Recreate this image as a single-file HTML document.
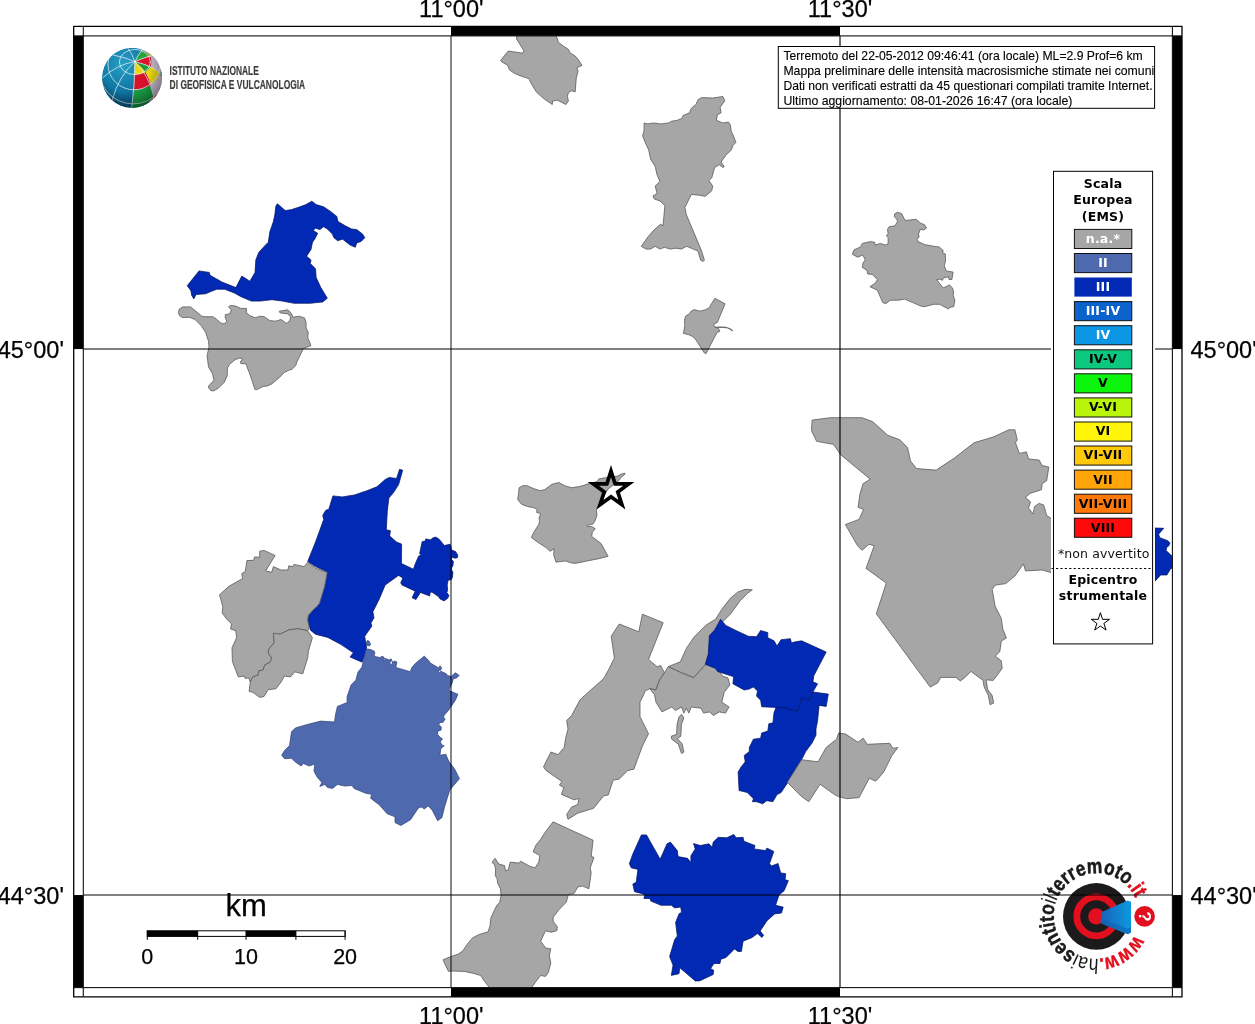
<!DOCTYPE html>
<html lang="it"><head><meta charset="utf-8"><title>Mappa intensità macrosismiche</title>
<style>
html,body{margin:0;padding:0;background:#fff;}
body{width:1255px;height:1024px;overflow:hidden;position:relative;font-family:"Liberation Sans",sans-serif;}
svg{position:absolute;left:0;top:0;display:block;}
.h{font-family:"Liberation Sans",sans-serif;fill:#000;}
.hb{stroke:#000;stroke-width:0.25px;}
.hi{stroke:#000;stroke-width:0.12px;}
.d{font-family:"DejaVu Sans","Liberation Sans",sans-serif;}
.db{font-family:"DejaVu Sans","Liberation Sans",sans-serif;font-weight:bold;font-size:12.5px;text-anchor:middle;letter-spacing:0.2px;}
</style></head><body>
<svg width="1255" height="1024" viewBox="0 0 1255 1024">
<defs>
<clipPath id="mapclip"><rect x="83.3" y="35.9" width="1089.1000000000001" height="951.7"/></clipPath>
<clipPath id="globeclip"><circle cx="132" cy="77.9" r="30.1"/></clipPath>
<radialGradient id="gblue" cx="35%" cy="28%" r="75%"><stop offset="0" stop-color="#27a0c6"/><stop offset="0.5" stop-color="#127ca8"/><stop offset="1" stop-color="#07527e"/></radialGradient>
<radialGradient id="gshade" cx="40%" cy="35%" r="65%"><stop offset="0.6" stop-color="#000" stop-opacity="0"/><stop offset="1" stop-color="#000" stop-opacity="0.36"/></radialGradient>
<linearGradient id="cone" x1="0" y1="0" x2="1" y2="0"><stop offset="0" stop-color="#1a62b8"/><stop offset="1" stop-color="#0a9ae0"/></linearGradient>
</defs>
<rect width="1255" height="1024" fill="#fff"/>
<g opacity="0.999">
<g clip-path="url(#mapclip)" stroke-linejoin="round">
<polygon points="277.1,203.8 279.3,205.3 285.2,210.5 291.1,209.7 300.0,206.8 305.9,204.6 311.8,201.2 316.2,204.6 323.6,206.8 330.2,211.2 336.8,216.4 338.0,221.5 345.7,226.0 351.6,228.9 356.7,229.6 362.6,234.1 364.8,237.7 361.2,241.4 356.7,242.9 355.3,247.3 350.1,245.1 342.7,239.2 337.6,240.7 333.9,237.7 332.4,234.1 327.3,228.9 323.6,226.7 319.9,229.6 315.5,228.2 313.2,230.4 317.7,233.3 314.7,239.2 312.5,242.2 311.0,249.5 306.6,256.2 311.0,259.9 310.3,263.5 315.5,268.7 316.2,277.5 320.6,287.1 327.3,298.2 322.8,301.9 310.3,303.3 294.1,303.3 282.3,301.1 272.0,299.7 260.2,301.1 251.3,301.1 241.0,296.7 234.4,293.0 224.8,289.3 216.7,289.3 210.8,291.6 205.6,293.8 196.1,294.5 193.8,298.9 191.6,295.2 190.9,290.8 187.2,285.7 199.0,270.9 209.3,272.4 210.1,275.3 221.9,282.0 235.9,287.6 241.8,276.1 249.9,281.2 255.0,272.4 255.8,259.9 258.7,252.5 264.6,245.9 268.3,242.2 269.8,231.9 273.4,221.5 274.9,214.2 275.7,206.8" fill="#0029b4" stroke="#00125e" stroke-width="0.7"/>
<polygon points="178.3,312.3 179.5,308.9 182.8,306.9 190.6,306.9 195.1,310.6 201.8,316.2 205.1,316.7 212.9,316.7 216.3,319.0 220.7,322.9 224.1,324.0 226.9,321.2 225.2,317.8 225.4,314.5 229.7,313.9 231.3,310.0 228.5,306.7 230.8,305.4 235.8,306.1 240.8,308.4 246.4,308.4 246.4,312.3 249.7,315.6 255.3,317.8 259.8,316.2 264.2,316.7 269.8,320.6 275.4,321.2 281.0,319.5 286.6,323.4 289.9,320.6 290.5,316.7 287.7,313.9 279.9,312.8 279.3,311.2 287.7,309.8 291.0,312.8 293.2,317.3 298.8,316.2 304.4,317.8 306.1,322.3 306.1,327.9 308.3,332.4 307.7,337.9 310.0,342.9 310.9,345.7 303.3,348.5 299.9,355.8 296.6,362.5 296.0,365.3 292.1,369.2 288.8,370.3 284.3,372.5 279.9,377.0 272.1,383.7 267.6,385.9 263.1,386.5 256.4,389.8 254.8,389.2 252.0,380.3 249.2,372.5 247.0,366.9 246.4,364.1 240.8,363.4 240.3,361.9 242.5,359.1 239.7,358.0 235.2,359.7 229.7,364.1 227.4,368.0 227.2,375.9 224.1,382.5 218.5,388.1 213.5,390.9 210.7,390.6 208.2,387.0 209.6,384.8 214.0,380.3 212.4,373.6 208.5,366.9 207.1,355.8 209.0,346.9 208.5,341.3 205.7,332.4 201.2,325.7 195.1,319.5 189.5,317.3 182.3,317.6 179.5,315.6" fill="#a6a6a6" stroke="#5a5a5a" stroke-width="0.8"/>
<polygon points="516.6,34.6 516.6,39.0 523.9,50.8 522.5,53.2 508.3,51.0 500.5,60.5 502.0,62.0 507.8,65.4 509.3,69.8 514.2,73.2 521.0,76.1 528.8,78.6 531.7,84.4 536.6,92.3 544.4,99.1 552.3,104.5 552.7,101.0 557.1,100.1 565.9,104.5 568.4,101.0 567.4,96.2 568.4,92.7 571.3,90.8 575.2,91.8 576.2,78.6 578.1,70.8 576.7,67.8 582.0,65.4 578.6,60.0 575.2,56.1 569.8,52.7 568.4,49.3 563.0,45.9 558.1,42.0 557.6,39.0 555.2,34.6" fill="#a6a6a6" stroke="#5a5a5a" stroke-width="0.8"/>
<polygon points="644.1,123.0 647.8,123.9 653.4,123.0 660.8,123.9 668.2,123.0 671.9,121.2 677.5,120.2 682.1,118.4 683.0,115.6 689.5,112.8 691.4,108.2 696.0,104.5 697.9,99.8 701.6,97.6 712.7,98.0 722.9,96.5 724.8,100.8 720.1,107.3 721.1,112.8 717.4,114.7 716.4,120.2 722.9,123.0 728.5,122.1 730.3,124.9 731.3,131.4 733.5,136.0 735.9,142.5 733.1,145.3 731.3,149.9 725.7,155.5 721.1,162.0 724.2,166.6 722.9,167.5 719.2,164.7 714.6,167.5 711.8,177.7 709.0,180.5 712.7,186.1 711.8,190.7 705.3,196.3 699.7,195.3 691.4,194.4 684.9,207.4 686.4,214.8 694.2,233.3 701.6,251.0 704.4,260.2 703.1,261.5 700.7,260.2 697.9,251.0 693.2,249.1 686.8,246.3 681.2,249.1 675.6,248.2 670.1,249.1 664.5,247.3 659.9,249.1 655.2,246.3 650.6,249.1 646.0,249.1 641.3,246.3 647.8,237.1 654.3,229.6 660.8,224.1 663.0,225.9 664.9,205.5 659.9,200.9 654.3,199.0 653.0,195.9 657.1,193.5 655.2,186.1 659.9,181.4 657.1,174.9 655.2,166.6 650.6,159.2 648.7,149.9 646.0,144.3 642.6,136.0 644.1,130.4" fill="#a6a6a6" stroke="#5a5a5a" stroke-width="0.8"/>
<polygon points="894.5,214.1 897.4,212.3 901.5,213.5 905.1,220.5 910.3,219.9 916.2,219.3 920.9,223.4 924.4,224.6 926.5,228.1 923.8,229.9 920.3,229.3 918.5,234.0 919.1,236.9 917.1,239.3 918.0,241.6 924.4,244.5 933.8,246.3 939.1,246.9 943.2,250.4 942.6,252.8 945.3,253.9 945.5,261.0 944.3,265.6 946.1,270.9 953.1,272.1 951.9,279.5 949.0,279.5 948.4,276.8 943.2,278.0 942.6,280.3 939.1,279.1 936.7,279.7 943.2,287.9 949.6,285.0 952.5,287.9 953.7,292.6 953.1,295.5 954.9,300.2 953.7,306.7 950.2,307.3 948.4,309.0 939.6,304.3 933.8,304.3 924.4,306.7 920.9,306.1 912.7,302.6 904.5,299.1 898.6,300.2 890.4,300.2 885.7,303.7 882.8,302.6 880.4,297.3 877.5,290.3 869.9,286.7 875.2,283.2 877.5,279.7 872.2,274.4 867.5,273.9 867.0,270.3 862.3,267.4 862.9,263.3 865.2,259.8 862.9,255.1 857.6,257.2 852.3,254.2 854.1,249.8 860.5,246.9 862.3,243.4 870.5,241.6 874.6,242.2 875.2,245.1 880.4,243.4 885.1,245.1 888.1,244.0 888.1,237.5 886.3,235.8 888.1,233.4 887.5,229.3 889.2,226.7 895.1,225.8 897.4,221.7 896.9,219.3 894.5,217.0" fill="#a6a6a6" stroke="#5a5a5a" stroke-width="0.8"/>
<polygon points="714.9,298.3 725.1,303.8 717.3,322.5 714.5,323.7 713.8,325.6 715.3,327.2 718.0,328.0 720.0,331.1 716.9,332.7 705.9,353.8 704.4,353.0 695.8,339.7 692.7,336.6 688.4,334.6 683.4,333.4 684.8,325.6 684.5,320.2 685.6,316.2 689.5,313.5 691.1,311.2 694.2,309.6 700.1,311.2 705.2,309.8 709.1,308.0 711.4,303.8" fill="#a6a6a6" stroke="#5a5a5a" stroke-width="0.8"/>
<polygon points="519.1,487.8 522.6,485.7 527.3,485.7 533.1,488.4 540.1,490.7 544.8,489.6 551.9,484.3 558.9,482.5 564.7,485.7 571.8,487.8 580.0,486.4 587.0,484.3 597.6,481.4 598.7,479.0 604.6,477.8 610.4,477.3 617.5,476.1 622.2,473.7 625.1,473.2 624.5,474.7 621.0,477.3 619.2,480.2 614.0,484.3 608.1,489.0 605.8,492.5 602.2,499.5 597.6,506.5 596.4,510.1 597.0,514.7 595.2,520.6 592.9,524.1 587.0,525.3 587.6,526.5 591.7,526.5 595.2,528.8 592.3,532.3 591.7,536.4 601.1,543.5 608.1,556.3 598.7,558.7 587.0,561.0 575.3,563.4 570.6,562.8 565.9,561.0 560.1,561.6 556.0,562.2 553.6,554.6 554.2,548.7 550.1,551.3 546.0,547.6 537.8,542.3 531.4,537.6 533.1,533.5 539.0,524.1 539.6,520.6 539.0,518.3 540.7,513.6 536.6,512.4 537.2,509.5 533.7,507.7 527.3,506.5 521.4,504.2 517.7,499.5 518.5,493.7" fill="#a6a6a6" stroke="#5a5a5a" stroke-width="0.8"/>
<polygon points="399.6,469.2 402.7,470.3 398.6,484.6 393.4,492.8 388.9,497.9 387.3,511.3 386.3,529.7 390.4,530.7 389.7,535.9 396.5,542.0 401.6,544.1 401.5,563.5 413.4,569.2 415.2,563.9 418.7,556.0 421.7,554.7 419.6,553.8 422.2,541.5 425.3,541.1 425.7,538.9 430.5,539.8 432.7,538.0 435.4,537.1 438.4,538.5 441.5,542.0 444.2,545.5 450.3,544.2 451.6,549.9 455.6,551.6 457.8,555.2 457.3,557.8 454.7,558.2 452.1,556.9 451.6,559.6 453.4,561.3 452.9,565.7 451.6,567.9 451.6,570.1 452.9,571.9 452.5,577.1 451.2,579.8 448.1,580.2 447.2,585.0 447.7,590.3 446.8,592.5 449.0,595.6 447.7,598.2 444.2,600.9 440.2,599.1 438.4,596.5 431.9,592.1 430.1,592.5 429.7,596.0 420.4,592.5 416.0,599.5 412.1,597.8 415.2,591.2 402.0,585.0 400.7,582.8 402.9,578.0 398.5,575.4 385.2,585.1 379.1,599.4 372.9,611.7 374.0,617.9 370.9,623.0 371.9,626.1 366.8,633.3 364.7,636.4 366.8,648.7 362.1,662.2 350.0,656.9 353.4,652.8 341.1,644.6 327.8,637.4 315.5,634.3 310.4,630.2 307.7,618.9 309.4,612.8 317.6,606.6 321.7,591.2 326.8,571.8 315.5,566.6 307.7,561.5 315.5,542.0 323.7,519.5 322.7,515.4 325.8,510.2 328.8,509.2 332.9,495.9 342.2,496.9 354.5,494.9 366.8,490.8 377.0,486.7 385.2,479.5 389.3,477.4 396.5,478.5" fill="#0029b4" stroke="#00125e" stroke-width="0.7"/>
<polygon points="259.7,551.2 264.0,550.4 275.1,555.5 265.7,570.9 271.7,572.3 273.4,566.6 281.1,570.0 287.9,570.0 288.8,565.8 293.0,566.6 293.9,564.4 304.1,566.6 307.6,562.4 316.1,568.3 327.2,572.6 324.7,586.3 319.5,603.4 314.4,608.5 308.4,615.3 307.6,620.5 309.3,628.2 307.6,630.7 298.2,628.7 288.8,629.9 280.2,634.1 273.4,633.3 274.2,642.7 269.1,648.7 268.2,652.9 271.7,658.1 270.0,662.4 264.8,664.9 263.1,670.0 258.8,670.9 258.0,675.2 252.9,676.9 250.3,682.0 248.6,677.7 245.2,678.6 244.3,676.0 238.3,676.9 232.4,661.5 232.0,647.8 236.6,637.6 235.8,630.7 230.6,629.0 231.5,623.9 226.4,618.8 222.1,612.8 222.9,606.8 219.5,594.8 228.9,586.3 242.6,578.6 241.8,573.5 245.2,571.8 246.9,560.6 253.7,560.3 254.6,556.9 259.7,557.2" fill="#a6a6a6" stroke="#5a5a5a" stroke-width="0.8"/>
<polygon points="273.4,633.3 280.2,634.1 288.8,629.9 298.2,628.7 307.6,630.7 312.4,637.6 308.4,651.2 307.6,658.1 305.0,666.6 302.8,673.8 294.7,671.8 290.5,676.9 284.5,676.0 281.1,682.0 275.9,688.8 268.2,689.7 264.0,696.5 259.7,697.4 252.9,692.3 249.1,691.4 250.3,682.0 252.9,676.9 258.0,675.2 258.8,670.9 263.1,670.0 264.8,664.9 270.0,662.4 271.7,658.1 268.2,652.9 269.1,648.7 274.2,642.7" fill="#a6a6a6" stroke="#5a5a5a" stroke-width="0.8"/>
<polygon points="365.7,650.2 368.4,649.1 371.1,649.7 374.3,651.3 374.9,653.4 373.8,655.0 375.9,656.7 380.8,657.7 381.6,656.1 384.0,657.2 383.5,660.9 385.1,659.9 384.5,658.3 389.4,659.9 391.0,658.8 392.1,660.4 389.9,662.0 390.4,664.7 392.6,663.6 392.1,661.5 394.2,662.0 394.7,660.9 396.9,662.0 395.8,667.4 410.3,671.7 411.9,667.4 415.2,663.6 424.3,656.1 429.1,660.9 429.7,662.6 434.0,665.2 438.8,667.9 439.9,665.8 441.5,667.4 440.9,670.1 438.3,670.6 439.3,672.8 440.9,671.2 446.3,673.8 447.4,675.4 451.1,676.5 455.4,672.8 459.2,675.4 456.5,678.1 453.3,678.7 452.2,683.0 450.1,687.3 449.0,690.5 453.8,692.6 457.9,694.2 455.4,700.2 452.2,705.0 450.6,707.1 448.5,710.4 444.2,715.2 443.6,717.3 445.2,719.0 443.1,722.2 439.9,722.7 438.8,724.3 441.5,727.5 440.9,730.2 437.7,731.3 437.7,734.5 439.9,737.2 442.5,738.8 440.4,741.5 441.5,744.7 444.2,745.8 440.9,748.5 439.9,755.2 445.8,754.3 448.7,761.1 454.6,768.9 459.5,778.7 453.6,785.5 449.7,790.4 444.8,806.0 441.9,817.7 437.6,820.7 432.1,809.9 428.2,806.0 424.3,808.9 421.4,807.0 418.4,808.0 410.6,819.7 400.9,825.5 395.0,822.6 395.0,816.8 387.2,813.8 379.4,805.0 370.6,798.2 371.6,794.3 365.7,793.3 354.0,788.4 352.0,785.5 345.2,786.1 337.4,784.5 332.5,788.4 327.6,787.5 324.7,784.5 319.8,786.5 321.8,782.6 316.9,776.7 313.9,770.9 314.9,764.0 309.1,766.0 303.2,763.4 301.2,766.0 295.4,762.1 291.5,758.2 284.6,758.8 281.7,755.2 284.6,750.4 289.5,745.5 291.5,731.8 295.4,727.9 309.1,724.0 320.8,721.1 334.5,722.0 335.4,715.2 337.4,706.4 347.1,702.5 347.1,696.6 351.1,684.9 355.9,680.0 357.9,672.2 361.8,667.3 363.8,659.5" fill="#4f69ae" stroke="#2c3f78" stroke-width="0.7"/>
<polygon points="642.4,614.2 663.2,622.7 648.5,659.4 657.1,666.7 660.7,665.5 664.4,672.8 659.5,680.1 655.9,689.9 649.8,688.7 644.9,691.1 643.7,694.8 640.0,702.1 640.0,716.7 648.5,733.8 642.4,746.0 633.9,769.2 627.8,770.5 619.2,779.0 613.1,780.2 608.3,794.9 603.4,796.1 593.6,808.3 577.7,813.2 568.0,819.3 566.7,814.4 571.6,807.1 577.7,804.6 579.0,798.5 574.1,799.8 561.4,794.4 563.8,787.5 559.4,785.1 561.9,781.4 546.0,770.5 543.5,766.8 550.9,752.1 558.2,754.6 564.3,747.3 565.5,738.7 568.0,728.9 566.7,720.4 571.6,715.5 580.2,699.6 593.6,687.4 603.4,678.9 608.3,670.3 614.4,658.1 611.2,636.2 619.2,624.0 638.8,631.8" fill="#a6a6a6" stroke="#5a5a5a" stroke-width="0.8"/>
<polygon points="668.1,666.7 680.3,661.8 686.4,648.4 693.7,637.4 705.9,625.2 715.7,619.1 721.8,609.3 730.3,598.3 737.7,592.2 745.0,589.3 752.3,589.8 747.4,593.4 740.1,600.8 730.3,614.2 723.0,621.5 710.8,633.7 709.6,650.8 705.9,664.2 693.7,677.7 681.5,672.8" fill="#a6a6a6" stroke="#5a5a5a" stroke-width="0.8"/>
<polygon points="664.4,672.8 668.1,666.7 681.5,672.8 693.7,677.7 705.9,664.2 716.9,667.9 723.0,676.4 727.9,677.7 729.9,685.0 724.2,692.3 721.8,702.1 729.1,707.0 725.5,713.1 719.4,711.9 713.2,715.5 709.6,711.9 703.5,713.1 701.0,708.2 691.3,707.0 688.8,713.1 686.4,708.2 683.9,713.1 681.5,707.0 675.4,710.6 671.7,707.0 662.0,711.9 655.9,702.1 654.6,694.8 649.8,688.7 655.9,689.9 659.5,680.1" fill="#a6a6a6" stroke="#5a5a5a" stroke-width="0.8"/>
<polygon points="681.5,714.3 683.9,718.0 681.5,724.1 680.8,736.3 677.4,738.7 682.0,743.6 683.9,752.1 681.5,753.4 678.3,744.1 671.7,739.2 671.2,736.3 676.6,734.3 677.1,724.1 679.1,716.7" fill="#a6a6a6" stroke="#5a5a5a" stroke-width="0.8"/>
<polygon points="720.6,619.2 725.8,625.4 736.0,630.5 748.3,636.2 756.5,636.7 760.6,630.5 767.8,632.6 767.8,637.7 774.0,640.8 777.0,645.9 781.1,639.7 790.4,638.7 791.4,642.8 795.5,641.8 801.6,640.8 826.2,652.0 813.9,675.6 812.9,681.8 817.6,683.8 812.9,692.0 809.8,700.2 801.6,698.2 797.5,711.5 785.2,708.0 776.0,707.4 761.7,706.8 760.6,700.2 756.5,696.1 757.5,691.0 753.4,686.9 749.3,689.0 744.2,690.0 732.9,683.8 733.6,676.7 717.6,671.5 715.5,668.4 705.3,664.3 708.3,654.1 709.4,635.6 714.5,630.5" fill="#0029b4" stroke="#00125e" stroke-width="0.7"/>
<polygon points="812.9,692.0 828.3,694.1 826.2,706.4 819.1,705.4 817.6,720.7 816.0,728.9 816.0,735.1 811.9,743.3 805.7,751.5 801.6,759.7 795.5,770.0 789.3,780.2 781.1,792.5 777.0,794.6 772.9,801.7 766.8,800.7 762.7,803.8 756.5,801.7 752.4,801.7 753.4,798.7 747.3,792.5 739.1,790.5 738.1,772.0 741.1,766.9 745.2,761.8 744.2,755.6 749.3,751.5 749.3,747.4 753.4,739.2 760.6,738.2 761.7,733.0 767.8,731.0 768.8,723.8 772.9,722.8 774.0,712.5 776.0,707.4 785.2,708.0 797.5,711.5 801.6,698.2 809.8,700.2" fill="#0029b4" stroke="#00125e" stroke-width="0.7"/>
<polygon points="787.3,782.3 801.6,759.7 818.0,761.8 826.2,747.4 836.5,739.2 838.6,733.0 845.7,734.1 858.0,742.3 863.2,738.2 867.3,744.3 889.8,743.3 892.9,748.4 898.0,747.4 891.9,755.6 883.7,772.0 878.5,778.2 875.5,781.2 869.3,778.2 859.1,797.6 846.8,798.7 838.6,796.6 834.5,794.6 820.1,784.3 808.8,801.7 801.6,796.6 793.4,788.4" fill="#a6a6a6" stroke="#5a5a5a" stroke-width="0.8"/>
<polygon points="812.1,420.1 830.3,417.7 862.0,417.7 872.6,421.6 887.8,435.3 899.9,439.8 907.5,447.4 910.5,461.0 916.5,468.6 936.2,470.1 954.4,458.0 974.0,442.8 993.7,436.8 1008.8,429.8 1014.9,429.8 1017.3,439.8 1015.5,442.8 1019.4,453.4 1026.4,451.9 1028.5,458.9 1039.1,460.1 1042.1,465.5 1048.8,467.0 1046.7,480.7 1042.1,483.7 1041.5,489.7 1030.0,493.4 1025.5,497.3 1030.6,501.9 1028.5,507.9 1033.1,514.0 1034.6,506.4 1039.1,503.4 1043.7,504.9 1046.7,515.5 1052.7,519.4 1052.7,573.0 1042.1,570.0 1025.5,570.9 1023.4,563.9 1014.9,576.0 1005.8,583.6 995.2,585.1 992.2,589.6 995.2,606.3 1001.3,618.4 1002.8,629.0 1006.4,638.1 1001.3,641.1 999.8,651.7 995.2,656.2 1001.3,660.8 1002.2,668.3 996.7,675.9 993.1,680.4 986.1,679.8 987.7,689.5 992.2,695.6 993.7,703.1 990.1,704.7 988.3,695.6 984.0,686.5 983.1,680.4 971.0,671.4 965.0,677.4 960.4,681.0 955.9,677.4 940.7,677.4 937.7,682.9 930.2,687.1 876.3,613.8 886.3,583.0 866.0,568.4 874.2,545.7 869.0,544.2 862.0,550.3 857.5,545.7 845.4,524.6 859.0,519.4 863.6,509.4 858.1,507.3 859.9,494.3 863.0,483.7 870.2,479.2 840.9,454.9 833.3,444.3 816.6,441.3 811.5,430.7" fill="#a6a6a6" stroke="#5a5a5a" stroke-width="0.8"/>
<polygon points="641.4,834.9 646.5,834.9 660.2,859.2 667.0,843.8 670.4,842.1 677.3,850.6 678.1,856.6 687.5,858.3 690.9,862.6 690.9,855.8 695.2,848.9 693.5,843.5 700.3,845.5 708.9,843.8 712.3,847.2 713.2,842.1 718.3,837.3 726.8,837.8 733.7,834.4 736.2,837.8 743.1,837.3 743.9,841.2 755.0,845.5 754.2,848.9 765.3,850.6 767.0,848.1 773.8,851.5 769.6,863.5 771.3,866.0 778.1,863.5 780.7,872.9 785.8,873.7 785.0,879.7 788.4,880.6 784.1,890.8 779.0,895.1 775.6,905.3 783.2,907.1 781.5,913.0 774.7,913.9 767.0,920.7 760.2,931.0 763.6,935.3 761.9,937.5 757.6,933.5 751.6,937.8 743.1,941.2 741.4,951.5 737.9,951.5 734.5,948.9 726.0,957.5 720.9,959.2 720.0,963.5 714.0,963.5 710.6,968.6 713.7,970.3 713.2,974.6 699.5,980.9 695.2,980.9 679.8,967.7 679.0,973.7 671.3,975.4 673.0,965.2 669.6,956.6 674.7,939.5 677.3,936.1 675.6,922.4 679.0,913.9 681.5,912.2 680.7,907.1 674.7,907.9 671.3,905.3 661.0,905.3 650.8,901.1 649.9,898.5 643.9,898.5 644.8,895.1 641.4,893.4 634.5,891.7 632.8,884.0 636.2,882.3 637.9,869.4 631.1,867.7 629.4,863.5 632.8,854.1" fill="#0029b4" stroke="#00125e" stroke-width="0.7"/>
<polygon points="553.1,821.8 593.1,840.2 591.2,856.4 594.0,857.4 590.2,867.9 591.2,872.6 588.9,888.8 582.6,886.0 577.9,886.9 574.0,893.6 568.3,894.5 566.4,902.1 558.8,909.8 553.1,917.4 553.1,921.2 557.3,926.9 556.9,930.7 551.2,932.2 545.5,930.7 540.7,941.2 545.5,947.9 550.8,948.8 549.3,955.5 550.8,963.1 548.3,972.6 545.5,976.4 540.7,975.5 536.9,980.2 532.1,986.9 526.4,995.5 494.9,996.7 489.5,987.8 484.7,981.6 480.6,975.5 473.7,973.4 464.2,971.4 451.9,971.0 448.5,971.4 444.8,963.9 443.0,959.8 451.2,956.4 458.0,954.3 462.8,950.9 466.9,944.7 472.4,937.9 479.2,934.5 488.1,931.8 490.1,925.6 490.8,918.1 494.2,910.6 497.0,905.1 499.7,902.4 501.1,895.5 500.4,888.7 497.7,883.2 497.0,878.5 495.3,875.7 495.6,868.2 494.2,864.1 492.2,862.7 493.1,860.7 495.0,858.3 498.8,864.0 504.5,865.6 505.5,870.7 508.3,869.8 510.2,862.1 518.8,863.1 520.7,861.2 529.3,866.0 535.0,867.9 538.8,862.1 539.8,855.5 533.1,851.7 536.0,845.0 540.7,839.3 545.5,831.7" fill="#a6a6a6" stroke="#5a5a5a" stroke-width="0.8"/>
<polygon points="1155.0,528.0 1163.8,528.3 1158.6,534.2 1159.9,537.7 1167.8,540.7 1170.0,542.9 1168.7,546.0 1166.9,546.9 1166.0,550.4 1172.0,556.1 1173.9,557.4 1173.9,568.0 1170.8,568.4 1166.9,575.0 1160.7,575.0 1155.0,581.2" fill="#0029b4" stroke="#00125e" stroke-width="0.7"/>
<polygon points="367.4,640.5 369.0,641.1 370.6,644.3 369.5,645.9 366.8,645.4 366.3,642.7" fill="#4f69ae" stroke="#2c3f78" stroke-width="0.7"/>
<path d="M714.6,327.3 L720,327.1 L726.3,327.5 L730.2,328.9 L732.6,331" fill="none" stroke="#6e6e6e" stroke-width="1.3"/>
</g>
<g id="ingv">
<g clip-path="url(#globeclip)">
<circle cx="132" cy="77.9" r="30.1" fill="url(#gblue)"/>
<polygon points="134.9,61.6 141.9,49.5 153.6,51.7 163.1,69.3 163.1,86.9 155.1,100.1 131.6,108.9 133.5,91.3 134.6,76.6" fill="#c9bdd0"/>
<polygon points="133.8,89.8 141.9,89.1 150.7,85.4 153.6,97.1 146.3,104.5 131.6,108.9 132.7,98.6" fill="#0e8f3c"/>
<polygon points="133.8,89.8 141.9,89.1 150.7,85.4 152.9,95.7 142.6,101.5 132.9,103.7" fill="#19a046"/>
<polygon points="134.6,74.4 139.7,74.1 145.5,72.2 148.5,78.1 150.7,85.4 141.9,89.1 133.8,89.8" fill="#d8122c"/>
<polygon points="134.9,61.6 139.0,64.9 142.6,68.6 145.5,72.2 139.7,74.1 134.6,74.4" fill="#e8d812"/>
<polygon points="134.9,61.6 141.9,63.4 147.7,64.9 151.0,66.4 148.5,69.3 145.5,72.2 142.6,68.6 139.0,64.9" fill="#1f9a3a"/>
<polygon points="145.5,72.2 148.5,69.3 151.0,66.4 155.8,70.0 159.8,73.3 156.5,79.6 151.4,84.0 148.5,78.1" fill="#e6d510"/>
<polygon points="134.9,61.6 140.4,59.4 146.3,57.2 150.7,56.5 151.4,61.2 151.0,66.4 147.7,64.9 141.9,63.4" fill="#dc1430"/>
<polygon points="134.9,61.6 138.2,55.4 141.9,50.3 146.3,52.5 149.6,55.0 146.3,57.2 140.4,59.4" fill="#2aa23c"/>
<polygon points="149.6,55.0 146.3,52.5 148.8,53.2 151.8,55.8 151.4,57.2" fill="#e8d812"/>
<polygon points="159.8,73.3 162.0,70.8 163.1,76.6 161.3,76.6" fill="#1f9a3a"/>
<polygon points="153.6,97.1 158.0,92.4 156.5,95.7 154.3,98.6" fill="#dc1430"/>
<path d="M134.9,61.6 Q134.9,85.4 131.6,108.1" stroke="#f2f8fa" stroke-width="0.7" fill="none" stroke-linecap="round"/>
<path d="M134.9,61.6 Q149.2,75.2 154.3,98.6" stroke="#f2f8fa" stroke-width="0.7" fill="none" stroke-linecap="round"/>
<path d="M134.9,61.6 Q151.4,65.6 162.0,74.4" stroke="#f2f8fa" stroke-width="0.7" fill="none" stroke-linecap="round"/>
<path d="M134.9,61.6 Q146.3,56.8 151.8,55.8" stroke="#f2f8fa" stroke-width="0.7" fill="none" stroke-linecap="round"/>
<path d="M134.9,61.6 Q138.2,54.7 141.9,49.9" stroke="#f2f8fa" stroke-width="0.7" fill="none" stroke-linecap="round"/>
<path d="M134.9,61.6 Q132.4,53.9 128.0,48.4" stroke="#f2f8fa" stroke-width="0.7" fill="none" stroke-linecap="round"/>
<path d="M134.9,61.6 Q125.8,57.6 113.3,55.0" stroke="#f2f8fa" stroke-width="0.7" fill="none" stroke-linecap="round"/>
<path d="M134.9,61.6 Q117.0,64.2 102.3,78.1" stroke="#f2f8fa" stroke-width="0.7" fill="none" stroke-linecap="round"/>
<path d="M134.9,61.6 Q119.2,75.2 112.2,99.7" stroke="#f2f8fa" stroke-width="0.7" fill="none" stroke-linecap="round"/>
<ellipse cx="134.9" cy="62.0" rx="15.5" ry="12.6" stroke="#f2f8fa" stroke-width="0.7" fill="none" stroke-linecap="round"/>
<ellipse cx="134.1" cy="64.2" rx="26.1" ry="25.6" stroke="#f2f8fa" stroke-width="0.7" fill="none" stroke-linecap="round"/>
<ellipse cx="133.1" cy="68.6" rx="34.4" ry="35.3" stroke="#f2f8fa" stroke-width="0.7" fill="none" stroke-linecap="round"/>
<circle cx="132" cy="77.9" r="30.1" fill="url(#gshade)"/>
</g>
<text x="169.6" y="74.8" font-family="Liberation Sans, sans-serif" font-weight="bold" font-size="13.6" fill="#3c3c3c" stroke="#3c3c3c" stroke-width="0.2" textLength="89.2" lengthAdjust="spacingAndGlyphs">ISTITUTO NAZIONALE</text>
<text x="169.6" y="89.2" font-family="Liberation Sans, sans-serif" font-weight="bold" font-size="13.6" fill="#3c3c3c" stroke="#3c3c3c" stroke-width="0.2" textLength="135.6" lengthAdjust="spacingAndGlyphs">DI GEOFISICA E VULCANOLOGIA</text>
</g>
<g id="hsit">
<circle cx="1096.3" cy="916.4" r="33.3" fill="#1d1a1b"/>
<circle cx="1096.3" cy="916.4" r="19.5" fill="none" stroke="#e2101e" stroke-width="6.8"/>
<circle cx="1096.3" cy="916.4" r="8.1" fill="#e2101e"/>
<polygon points="1101.2,912.3 1127.6,900.4 1131.0,901.7 1131.0,932.5 1127.8,934.2 1100.6,923.2" fill="url(#cone)"/>
<polygon points="1100.6,923.2 1127.8,934.2 1131.0,932.5 1131.0,927.0 1127.6,928.7 1103.6,919.5" fill="#0e5fb0" opacity="0.55"/>
<circle cx="1144.6" cy="916.4" r="10.3" fill="#e2101e"/>
<text x="1144.6" y="916.4" transform="rotate(90 1144.6 916.4)" font-family="Liberation Sans, sans-serif" font-weight="bold" font-size="17" fill="#fff" text-anchor="middle" dy="6">?</text>
<path id="circ" d="M1134.77,935.16 A42.8,42.8 0 1 1 1134.79,935.12" fill="none"/>
<text font-family="Liberation Sans, sans-serif" font-size="21" fill="#1d1a1b" textLength="230.1" lengthAdjust="spacingAndGlyphs"><textPath href="#circ" textLength="230.1" lengthAdjust="spacingAndGlyphs"><tspan font-weight="bold" fill="#e2101e" stroke="#e2101e" stroke-width="0.5">www.</tspan><tspan>hai</tspan><tspan font-weight="bold" stroke="#1d1a1b" stroke-width="0.5">sentito</tspan><tspan>il</tspan><tspan font-weight="bold" stroke="#1d1a1b" stroke-width="0.5">terremoto</tspan><tspan font-weight="bold" fill="#e2101e" stroke="#e2101e" stroke-width="0.5">.it</tspan></textPath></text>
</g>
<g stroke="#000" stroke-width="1.1">
<line x1="451.0" y1="35.9" x2="451.0" y2="987.6" stroke-width="0.95"/>
<line x1="840.0" y1="35.9" x2="840.0" y2="987.6" stroke-width="1.15"/>
<line x1="83.3" y1="349.07" x2="1172.4" y2="349.07"/>
<line x1="83.3" y1="895.05" x2="1172.4" y2="895.05"/>
</g>
<polygon points="611.00,471.10 615.18,483.95 628.69,483.95 617.76,491.90 621.93,504.75 611.00,496.80 600.07,504.75 604.24,491.90 593.31,483.95 606.82,483.95" fill="none" stroke="#000" stroke-width="3.7" stroke-miterlimit="10"/>
<rect x="778.3" y="46.5" width="376.3" height="61.8" fill="#fff" stroke="#000" stroke-width="1"/>
<text class="h hi" x="783.4" y="59.7" font-size="12.4" textLength="359.4" lengthAdjust="spacingAndGlyphs">Terremoto del 22-05-2012 09:46:41 (ora locale) ML=2.9 Prof=6 km</text>
<text class="h hi" x="783.4" y="74.6" font-size="12.4" textLength="370.8" lengthAdjust="spacingAndGlyphs">Mappa preliminare delle intensità macrosismiche stimate nei comuni</text>
<text class="h hi" x="783.4" y="89.6" font-size="12.4" textLength="369.2" lengthAdjust="spacingAndGlyphs">Dati non verificati estratti da 45 questionari compilati tramite Internet.</text>
<text class="h hi" x="783.4" y="104.6" font-size="12.4" textLength="289.0" lengthAdjust="spacingAndGlyphs">Ultimo aggiornamento: 08-01-2026 16:47 (ora locale)</text>
<rect x="1051" y="169" width="104" height="477.5" fill="#fff"/>
<rect x="1053.5" y="171.3" width="99.1" height="472.6" fill="#fff" stroke="#000" stroke-width="1"/>
<text class="db" x="1103.0" y="188.2">Scala</text>
<text class="db" x="1103.0" y="204.2">Europea</text>
<text class="db" x="1103.0" y="220.5">(EMS)</text>
<rect x="1074.4" y="229.4" width="57.4" height="19.1" fill="#a6a6a6" stroke="#111" stroke-width="1"/>
<text class="db" x="1103.0" y="242.8" fill="#fff">n.a.*</text>
<rect x="1074.4" y="253.5" width="57.4" height="19.1" fill="#4f69ae" stroke="#111" stroke-width="1"/>
<text class="db" x="1103.0" y="266.9" fill="#fff">II</text>
<rect x="1074.4" y="277.5" width="57.4" height="19.1" fill="#0029b4" stroke="none" stroke-width="1"/>
<text class="db" x="1103.0" y="290.9" fill="#fff">III</text>
<rect x="1074.4" y="301.6" width="57.4" height="19.1" fill="#0a62cc" stroke="#111" stroke-width="1"/>
<text class="db" x="1103.0" y="315.0" fill="#fff">III-IV</text>
<rect x="1074.4" y="325.7" width="57.4" height="19.1" fill="#0c96e6" stroke="#111" stroke-width="1"/>
<text class="db" x="1103.0" y="339.1" fill="#fff">IV</text>
<rect x="1074.4" y="349.8" width="57.4" height="19.1" fill="#0cc87e" stroke="#111" stroke-width="1"/>
<text class="db" x="1103.0" y="363.1" fill="#000">IV-V</text>
<rect x="1074.4" y="373.8" width="57.4" height="19.1" fill="#0cf50c" stroke="#111" stroke-width="1"/>
<text class="db" x="1103.0" y="387.2" fill="#000">V</text>
<rect x="1074.4" y="397.9" width="57.4" height="19.1" fill="#b9f50a" stroke="#111" stroke-width="1"/>
<text class="db" x="1103.0" y="411.3" fill="#000">V-VI</text>
<rect x="1074.4" y="422.0" width="57.4" height="19.1" fill="#fff50a" stroke="#111" stroke-width="1"/>
<text class="db" x="1103.0" y="435.4" fill="#000">VI</text>
<rect x="1074.4" y="446.0" width="57.4" height="19.1" fill="#ffc80a" stroke="#111" stroke-width="1"/>
<text class="db" x="1103.0" y="459.4" fill="#000">VI-VII</text>
<rect x="1074.4" y="470.1" width="57.4" height="19.1" fill="#ffa50a" stroke="#111" stroke-width="1"/>
<text class="db" x="1103.0" y="483.5" fill="#000">VII</text>
<rect x="1074.4" y="494.2" width="57.4" height="19.1" fill="#ff780a" stroke="#111" stroke-width="1"/>
<text class="db" x="1103.0" y="507.6" fill="#000">VII-VIII</text>
<rect x="1074.4" y="518.2" width="57.4" height="19.1" fill="#ff0a0a" stroke="#111" stroke-width="1"/>
<text class="db" x="1103.0" y="531.6" fill="#000">VIII</text>
<text class="d" x="1103.7" y="557.6" font-size="12.5" letter-spacing="0.12" text-anchor="middle" fill="#111">*non avvertito</text>
<line x1="1051.6" y1="568.5" x2="1150.6" y2="568.5" stroke="#000" stroke-width="1" stroke-dasharray="2.2,2.2"/>
<text class="db" x="1103.0" y="584.2">Epicentro</text>
<text class="db" x="1103.0" y="599.6">strumentale</text>
<polygon points="1100.40,612.70 1102.56,619.33 1109.53,619.33 1103.89,623.43 1106.04,630.07 1100.40,625.97 1094.76,630.07 1096.91,623.43 1091.27,619.33 1098.24,619.33" fill="#fff" stroke="#000" stroke-width="1"/>
<g>
<text class="h hb" x="246.2" y="915.9" font-size="31" text-anchor="middle">km</text>
<rect x="147.3" y="930.8" width="197.8" height="5.6" fill="#fff" stroke="#000" stroke-width="1"/>
<rect x="147.3" y="930.8" width="50.39999999999998" height="5.6" fill="#000"/>
<rect x="246.0" y="930.8" width="49.89999999999998" height="5.6" fill="#000"/>
<line x1="147.3" y1="930.8" x2="147.3" y2="939.8" stroke="#000" stroke-width="1"/>
<line x1="197.7" y1="930.8" x2="197.7" y2="939.8" stroke="#000" stroke-width="1"/>
<line x1="246.0" y1="930.8" x2="246.0" y2="939.8" stroke="#000" stroke-width="1"/>
<line x1="295.9" y1="930.8" x2="295.9" y2="939.8" stroke="#000" stroke-width="1"/>
<line x1="345.1" y1="930.8" x2="345.1" y2="939.8" stroke="#000" stroke-width="1"/>
<text class="h hb" x="147.3" y="964.1" font-size="21.5" text-anchor="middle">0</text>
<text class="h hb" x="246.0" y="964.1" font-size="21.5" text-anchor="middle">10</text>
<text class="h hb" x="345.1" y="964.1" font-size="21.5" text-anchor="middle">20</text>
</g>
<g>
<path d="M73.7,26.3H1182.0V996.9H73.7Z M83.3,35.9V987.6H1172.4V35.9Z" fill="#fff" fill-rule="evenodd"/>
<rect x="451.0" y="26.3" width="389.0" height="9.599999999999998" fill="#000"/>
<rect x="451.0" y="987.6" width="389.0" height="9.299999999999955" fill="#000"/>
<rect x="73.7" y="35.9" width="9.599999999999994" height="313.17" fill="#000"/>
<rect x="73.7" y="895.05" width="9.599999999999994" height="92.55000000000007" fill="#000"/>
<rect x="1172.4" y="35.9" width="9.599999999999909" height="313.17" fill="#000"/>
<rect x="1172.4" y="895.05" width="9.599999999999909" height="92.55000000000007" fill="#000"/>
<rect x="73.7" y="26.3" width="1108.3" height="970.6" fill="none" stroke="#000" stroke-width="1.3" stroke-linejoin="round"/>
<rect x="83.3" y="35.9" width="1089.1000000000001" height="951.7" fill="none" stroke="#111" stroke-width="1.1"/>
<line x1="83.3" y1="26.3" x2="83.3" y2="35.9" stroke="#111" stroke-width="1.1"/>
<line x1="83.3" y1="987.6" x2="83.3" y2="996.9" stroke="#111" stroke-width="1.1"/>
<line x1="1172.4" y1="26.3" x2="1172.4" y2="35.9" stroke="#111" stroke-width="1.1"/>
<line x1="1172.4" y1="987.6" x2="1172.4" y2="996.9" stroke="#111" stroke-width="1.1"/>
<line x1="73.7" y1="35.9" x2="83.3" y2="35.9" stroke="#111" stroke-width="1.1"/>
<line x1="1172.4" y1="35.9" x2="1182.0" y2="35.9" stroke="#111" stroke-width="1.1"/>
<line x1="73.7" y1="987.6" x2="83.3" y2="987.6" stroke="#111" stroke-width="1.1"/>
<line x1="1172.4" y1="987.6" x2="1182.0" y2="987.6" stroke="#111" stroke-width="1.1"/>
</g>
<text class="h hb" x="451.3" y="16.8" font-size="23.5" text-anchor="middle">11°00'</text>
<text class="h hb" x="451.3" y="1024.3" font-size="23.5" text-anchor="middle">11°00'</text>
<text class="h hb" x="840.0" y="16.8" font-size="23.5" text-anchor="middle">11°30'</text>
<text class="h hb" x="840.0" y="1024.3" font-size="23.5" text-anchor="middle">11°30'</text>
<text class="h hb" x="63.9" y="357.7" font-size="23.5" text-anchor="end">45°00'</text>
<text class="h hb" x="1190.5" y="357.7" font-size="23.5" text-anchor="start">45°00'</text>
<text class="h hb" x="63.9" y="903.7" font-size="23.5" text-anchor="end">44°30'</text>
<text class="h hb" x="1190.5" y="903.7" font-size="23.5" text-anchor="start">44°30'</text>
</g>
</svg></body></html>
